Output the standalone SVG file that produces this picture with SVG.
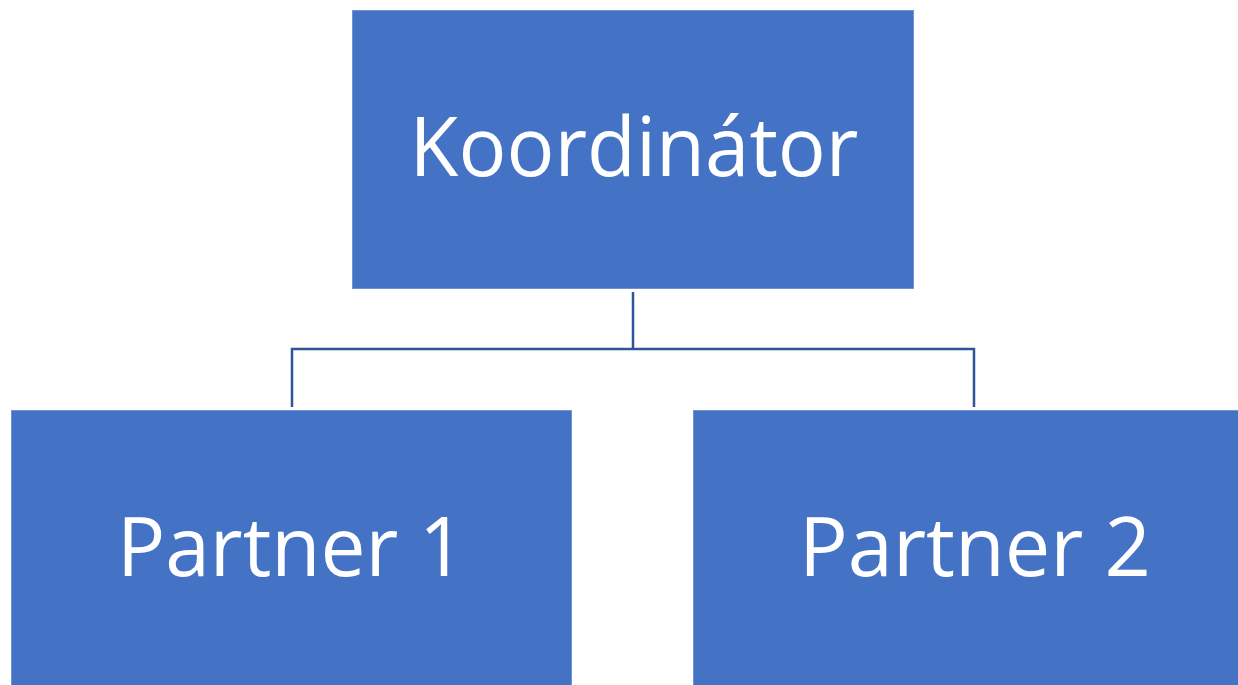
<svg xmlns="http://www.w3.org/2000/svg" width="1238" height="685" viewBox="0 0 1238 685">
<style>
.box{fill:#4472C4;stroke:#6F93D3;stroke-width:1}
.lbl{fill:#FFFFFF;font-family:"Open Sans","Liberation Sans",sans-serif;font-size:83px;text-anchor:middle}
.conn{fill:none;stroke:#2F5597;stroke-width:2.5}
</style>
<rect width="1238" height="685" fill="#FFFFFF"/>
<g id="connectors">
<path class="conn" d="M633,292 V349"/>
<path class="conn" d="M292,407 V349 H974 V407"/>
</g>
<g id="koordinator">
<rect class="box" x="352.5" y="10.5" width="561" height="278"/>
<text class="lbl" x="634" y="176" textLength="449" lengthAdjust="spacingAndGlyphs">Koordinátor</text>
</g>
<g id="partner1">
<rect class="box" x="11.5" y="410.5" width="560" height="280"/>
<text class="lbl" x="291" y="576" textLength="348" lengthAdjust="spacingAndGlyphs">Partner 1</text>
</g>
<g id="partner2">
<rect class="box" x="693.5" y="410.5" width="560" height="280"/>
<text class="lbl" x="975" y="576" textLength="352" lengthAdjust="spacingAndGlyphs">Partner 2</text>
</g>
</svg>
